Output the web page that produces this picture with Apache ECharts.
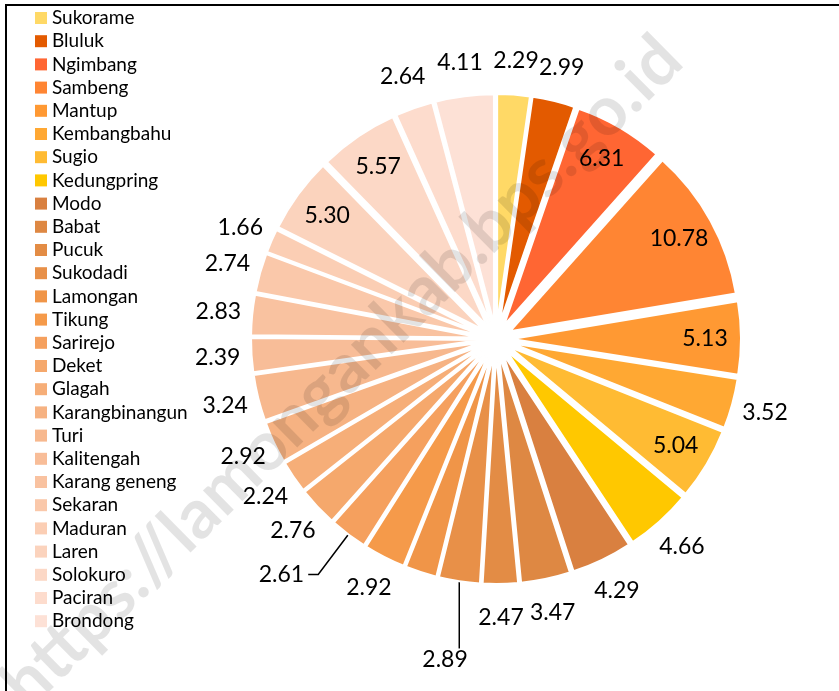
<!DOCTYPE html>
<html>
<head>
<meta charset="utf-8">
<script src="https://cdn.jsdelivr.net/npm/echarts@6/dist/echarts.min.js"></script>
<style>
  html, body { margin: 0; padding: 0; background: #fff; }
  #chart { width: 839px; height: 691px; }
</style>
</head>
<body>
<div id="chart"></div>
<script>
const names = [
  'Sukorame', 'Bluluk', 'Ngimbang', 'Sambeng', 'Mantup', 'Kembangbahu', 'Sugio',
  'Kedungpring', 'Modo', 'Babat', 'Pucuk', 'Sukodadi', 'Lamongan', 'Tikung',
  'Sarirejo', 'Deket', 'Glagah', 'Karangbinangun', 'Turi', 'Kalitengah',
  'Karang geneng', 'Sekaran', 'Maduran', 'Laren', 'Solokuro', 'Paciran', 'Brondong'
]
const values = [
  2.29, 2.99, 6.31, 10.78, 5.13, 3.52, 5.04,
  4.66, 4.29, 3.47, 2.47, 2.89, 2.23, 2.92,
  2.61, 2.76, 2.24, 2.92, 3.24, 2.39,
  2.83, 2.74, 1.66, 5.30, 5.57, 2.64, 4.11
]
const colors = [
  '#ffd966', '#e35a00', '#ff6633', '#ff8533', '#ff9933', '#ffa833', '#ffbb33',
  '#ffc800', '#d98040', '#de8843', '#e38c45', '#e89048', '#f09548', '#f59a4a',
  '#f5a05e', '#f5a86c', '#f6ae78', '#f6b282', '#f7b88e', '#f8bd98',
  '#f9c2a0', '#fac8aa', '#fbceb4', '#fbd3bd', '#fcd8c6', '#fddccd', '#fde1d6'
]
// labels drawn inside the slice, and the two that get a leader line
const insideNames = ['Ngimbang', 'Sambeng', 'Mantup', 'Sugio', 'Laren', 'Solokuro']
const leaderNames = ['Sarirejo', 'Sukodadi']

const FONT = 'Lato, "Liberation Sans", sans-serif'
const CENTER = [496, 339]
const fmt = (p) => p.value.toFixed(2)
const labelText = { color: '#000', fontFamily: FONT, fontSize: 23, overflow: 'none' }
const clear = 'rgba(0,0,0,0)'

const chart = echarts.init(document.getElementById('chart'))

function labelRing(radius, pick) {
  return {
    type: 'pie',
    center: CENTER,
    radius: radius,
    startAngle: 90,
    silent: true,
    animation: false,
    avoidLabelOverlap: false,
    emphasis: { disabled: true },
    tooltip: { show: false },
    itemStyle: { color: clear, borderWidth: 0 },
    label: { show: false, position: 'inside', formatter: fmt, ...labelText },
    labelLine: { show: false },
    data: names.map((n, i) => ({
      name: n,
      value: values[i],
      label: { show: pick(n) },
    })),
  }
}

chart.setOption({
  backgroundColor: '#ffffff',
  animation: false,
  legend: {
    orient: 'vertical',
    left: 30,
    top: 3,
    itemWidth: 12,
    itemHeight: 12,
    itemGap: 3.2,
    icon: 'rect',
    selectedMode: false,
    itemStyle: { borderWidth: 0 },
    textStyle: { color: '#000', fontFamily: FONT, fontSize: 19, lineHeight: 20 },
    data: names,
  },
  graphic: [
    { type: 'line', shape: { x1: 5, y1: 5, x2: 839, y2: 5 }, style: { stroke: '#000', lineWidth: 2 } },
    { type: 'line', shape: { x1: 6, y1: 5, x2: 6, y2: 691 }, style: { stroke: '#000', lineWidth: 2 } },
    {
      type: 'text',
      x: 342,
      y: 372,
      rotation: 0.778,
      z: 100,
      silent: true,
      style: {
        text: 'https://lamongankab.bps.go.id',
        font: 'bold 69px Lato, sans-serif',
        fill: 'rgba(0,0,0,0.11)',
        align: 'center',
        verticalAlign: 'middle',
        textAlign: 'center',
        textVerticalAlign: 'middle',
      },
    },
  ],
  series: [
    {
      type: 'pie',
      center: CENTER,
      radius: [0, 229],
      startAngle: 90,
      clockwise: true,
      selectedMode: 'multiple',
      selectedOffset: 16,
      avoidLabelOverlap: false,
      emphasis: { disabled: true },
      itemStyle: { borderColor: '#fff', borderWidth: 2 },
      label: { show: false, position: 'outside', formatter: fmt, distanceToLabelLine: 4, ...labelText },
      labelLine: { show: false, lineStyle: { color: '#000', width: 1.5 } },
      labelLayout: (p) => {
        if (names[p.dataIndex] !== 'Sukodadi' || !p.labelLinePoints) return {}
        const pts = p.labelLinePoints
        const x = pts[0][0]
        const y = pts[1][1]
        return {
          x: x,
          y: y + 6,
          align: 'center',
          verticalAlign: 'top',
          labelLinePoints: [[x, pts[0][1]], [x, y], [x, y]],
        }
      },
      data: names.map((n, i) => {
        const lead = leaderNames.includes(n)
        return {
          name: n,
          value: values[i],
          selected: true,
          itemStyle: { color: colors[i] },
          label: { show: lead },
          labelLine: lead
            ? { show: true, length: n === 'Sukodadi' ? 68 : 50, length2: n === 'Sukodadi' ? 0 : 10 }
            : { show: false },
        }
      }),
    },
    labelRing([180, 232], (n) => insideNames.includes(n)),
    labelRing([256, 296], (n) => !insideNames.includes(n) && !leaderNames.includes(n)),
  ],
})
</script>
</body>
</html>
